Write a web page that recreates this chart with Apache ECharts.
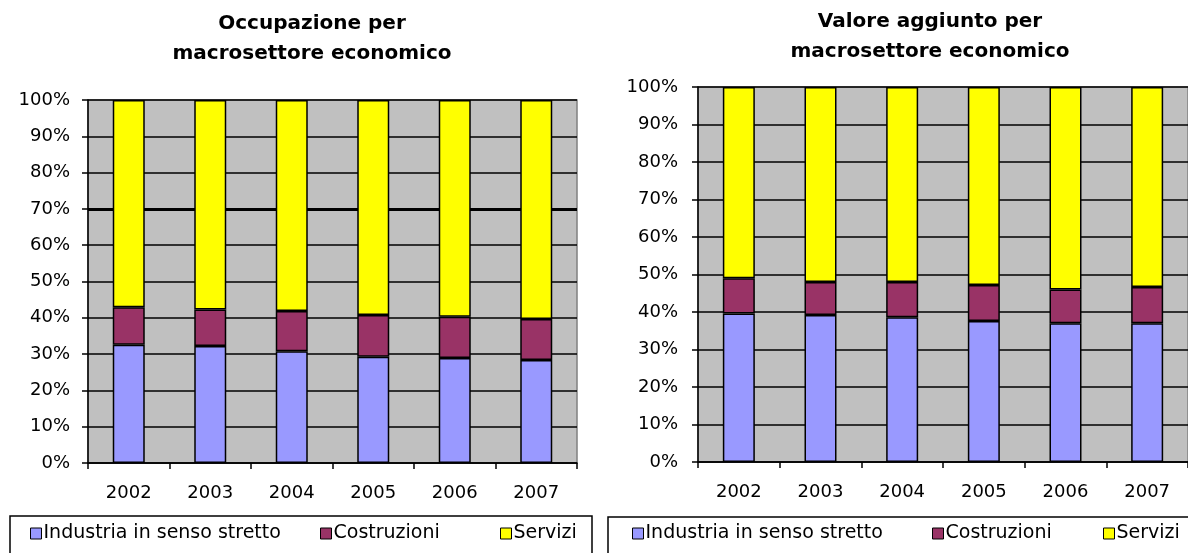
<!DOCTYPE html>
<html>
<head>
<meta charset="utf-8">
<script src="https://cdn.jsdelivr.net/npm/echarts@6/dist/echarts.min.js"></script>
<style>
  html, body { margin: 0; padding: 0; background: #fff; }
  #chart { width: 1188px; height: 553px; }
</style>
</head>
<body>
<div id="chart"></div>
<script>
// Anni e quote percentuali per macrosettore
const years = ['2002', '2003', '2004', '2005', '2006', '2007'];
const seriesNames = ['Industria in senso stretto', 'Costruzioni', 'Servizi'];

// Occupazione (%)
const occIndustria   = [32.6, 32.2, 30.8, 29.3, 28.9, 28.4];
const occCostruzioni = [10.3, 10.1, 11.1, 11.5, 11.4, 11.3];
const occServizi     = [57.1, 57.7, 58.1, 59.2, 59.7, 60.3];

// Valore aggiunto (%)
const vaIndustria   = [39.6, 39.2, 38.6, 37.6, 37.0, 37.0];
const vaCostruzioni = [9.4, 8.8, 9.4, 9.6, 9.0, 9.7];
const vaServizi     = [51.0, 52.0, 52.0, 52.8, 54.0, 53.3];

const colors = ['#9999ff', '#993366', '#ffff00'];
const FONT = 'DejaVu Sans';

function yAxis(gridIndex, margin) {
  return {
    type: 'value', gridIndex, min: 0, max: 100, interval: 10,
    axisLine: { show: true, lineStyle: { color: '#000', width: 1.5 } },
    axisTick: { show: true, length: 6, lineStyle: { color: '#000', width: 1.5 } },
    axisLabel: { formatter: '{value}%', color: '#000', fontFamily: FONT, fontSize: 18, margin },
    splitLine: { show: true, lineStyle: { color: '#000', width: 1.5 } }
  };
}

// asse nascosto che traccia solo la linea marcata al 70% (dietro alle barre)
const line70Axis = {
  type: 'value', gridIndex: 0, min: 0, max: 100, interval: 70,
  axisLine: { show: false }, axisTick: { show: false }, axisLabel: { show: false },
  splitLine: { show: true, showMinLine: false, showMaxLine: false, lineStyle: { color: '#000', width: 3 } }
};

function xAxis(gridIndex) {
  return {
    type: 'category', gridIndex, data: years, boundaryGap: true,
    axisLine: { show: true, lineStyle: { color: '#000', width: 1.5 } },
    axisTick: { show: true, length: 6, alignWithLabel: false, lineStyle: { color: '#000', width: 1.5 } },
    axisLabel: { color: '#000', fontFamily: FONT, fontSize: 18, margin: 21 },
    splitLine: { show: false }
  };
}

function bars(axisIndex, stack, values, barWidth) {
  return values.map((vals, i) => ({
    name: seriesNames[i], type: 'bar', stack,
    xAxisIndex: axisIndex, yAxisIndex: axisIndex,
    data: vals, barWidth,
    itemStyle: { color: colors[i], borderColor: '#000', borderWidth: 1.5 }
  }));
}

const leftSeries = bars(0, 'occ', [occIndustria, occCostruzioni, occServizi], 32);
const rightSeries = bars(1, 'va', [vaIndustria, vaCostruzioni, vaServizi], 32);

// una voce di legenda per componente, per collocare ciascuna voce
function legendItem(name, left, top) {
  return {
    left, top, padding: 0,
    data: [name],
    icon: 'rect', itemWidth: 11, itemHeight: 11,
    selectedMode: false,
    textStyle: { color: '#000', fontFamily: FONT, fontSize: 19, padding: [0, 0, 0, -3] },
    itemStyle: { borderColor: '#000', borderWidth: 1 }
  };
}

const legendLeftX  = [30, 320, 500];
const legendRightX = [632, 932, 1103];

const chart = echarts.init(document.getElementById('chart'));
chart.setOption({
  animation: false,
  backgroundColor: '#fff',
  title: [
    {
      text: 'Occupazione per\nmacrosettore economico',
      left: 307, top: 4, textAlign: 'center',
      textStyle: { fontFamily: FONT, fontWeight: 'bold', fontSize: 20, lineHeight: 30, color: '#000' }
    },
    {
      text: 'Valore aggiunto per\nmacrosettore economico',
      left: 925, top: 2, textAlign: 'center',
      textStyle: { fontFamily: FONT, fontWeight: 'bold', fontSize: 20, lineHeight: 30, color: '#000' }
    }
  ],
  // cornici delle legende
  graphic: [
    { type: 'rect', shape: { x: 10, y: 516, width: 582, height: 60 },
      style: { fill: '#fff', stroke: '#000', lineWidth: 1.5 }, z: 0 },
    { type: 'rect', shape: { x: 608, y: 517, width: 620, height: 60 },
      style: { fill: '#fff', stroke: '#000', lineWidth: 1.5 }, z: 0 }
  ],
  legend: seriesNames.map((n, i) => legendItem(n, legendLeftX[i], 524))
    .concat(seriesNames.map((n, i) => legendItem(n, legendRightX[i], 524))),
  grid: [
    { left: 88, top: 100, width: 489, height: 363, show: true, backgroundColor: '#c0c0c0', borderColor: '#808080', borderWidth: 1.5 },
    { left: 698, top: 87, width: 498, height: 375, show: true, backgroundColor: '#c0c0c0', borderColor: '#808080', borderWidth: 1.5 }
  ],
  xAxis: [xAxis(0), xAxis(1)],
  yAxis: [yAxis(0, 18), yAxis(1, 20), line70Axis],
  series: leftSeries.concat(rightSeries)
});
</script>
</body>
</html>
